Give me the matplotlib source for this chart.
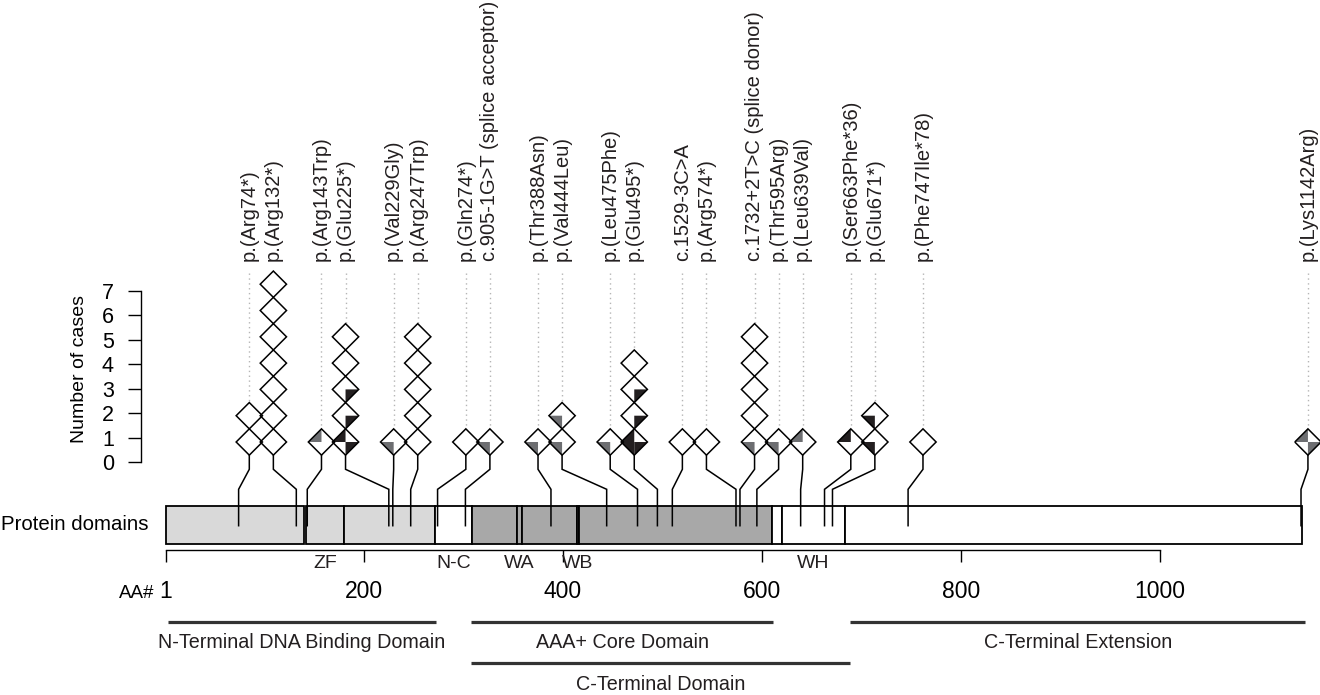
"""Lollipop plot of variants along the protein with domain bar underneath."""

import matplotlib

matplotlib.use("Agg")

import matplotlib.pyplot as plt
import numpy as np
from matplotlib.patches import Polygon, Rectangle

plt.rcParams["font.family"] = ["Liberation Sans", "DejaVu Sans"]

# ---- data ----
variant_labels = [
    "p.(Arg74*)", "p.(Arg132*)", "p.(Arg143Trp)", "p.(Glu225*)", "p.(Val229Gly)",
    "p.(Arg247Trp)", "p.(Gln274*)", "c.905-1G>T (splice acceptor)", "p.(Thr388Asn)",
    "p.(Val444Leu)", "p.(Leu475Phe)", "p.(Glu495*)", "c.1529-3C>A", "p.(Arg574*)",
    "c.1732+2T>C (splice donor)", "p.(Thr595Arg)", "p.(Leu639Val)", "p.(Ser663Phe*36)",
    "p.(Glu671*)", "p.(Phe747Ile*78)", "p.(Lys1142Arg)",
]
variant_aa = [74, 132, 143, 225, 229, 247, 274, 302, 388, 444, 475, 495, 510, 574,
              578, 595, 639, 663, 671, 747, 1142]
# one code per case, quadrants in order TL TR BL BR: "." empty, "g" grey, "k" dark
variant_cases = [
    ["....", "...."],
    ["...."] * 7,
    ["g..."],
    ["k..k", "...k", "...k", "....", "...."],
    ["..g."],
    ["...."] * 5,
    ["...."],
    ["..g."],
    ["..g."],
    ["..g.", "..g."],
    ["..g."],
    ["k.kk", "...k", "...k", "...."],
    ["...."],
    ["...."],
    ["..g.", "....", "....", "....", "...."],
    ["..g."],
    ["g..."],
    ["k..."],
    ["..k.", "..k."],
    ["...."],
    ["g..g"],
]

segment_starts = [1, 141.7, 180, 271, 309, 353.5, 358.5, 413.8, 416.4, 610.5, 620, 684]
segment_ends = [140, 180, 271, 309, 353.5, 358.5, 413.8, 416.4, 610.5, 620, 684, 1143]
segment_shades = ["light", "light", "light", "white", "dark", "dark", "dark", "dark",
                  "dark", "white", "white", "white"]
segment_tags = ["", "ZF", "", "N-C", "", "WA", "", "WB", "", "", "WH", ""]

region_names = ["N-Terminal DNA Binding Domain", "AAA+ Core Domain",
                "C-Terminal Domain", "C-Terminal Extension"]
region_starts = [3, 308, 308, 689]
region_ends = [272, 611, 689, 1146]
region_rows = [0, 0, 1, 0]

aa_ticks = [1, 200, 400, 600, 800, 1000]
case_ticks = [0, 1, 2, 3, 4, 5, 6, 7]

# ---- layout (pixel based, figure is 1320 x 695) ----
PX_PER_AA = 0.99475
AA1_PX = 166.0
PX_PER_CASE = 24.47
CASE0_PX = 462.0
LABEL_GAP_PX = 34.2      # spacing used while pushing labels apart
LABEL_SLOT_PX = 24.06    # labels then sit on a regular slot grid
LABEL_SLOT0_PX = 249.3

SHADES = {"light": "#d9d9d9", "dark": "#a8a8a8", "white": "white"}
QUAD_COLORS = {"g": "#6d6e71", "k": "#231f20"}
LW = 1.1


def x_at(px):
    return 1 + (px - AA1_PX) / PX_PER_AA


def y_at(px):
    return (CASE0_PX - px) / PX_PER_CASE


def spread_labels(positions, gap, slot, slot0):
    """Push label anchors apart (centred clusters), then snap them to free slots."""
    order = np.argsort(positions)
    groups = [[positions[i]] for i in order]

    def place(group):
        mid = np.mean(group)
        n = len(group)
        return [mid + (j - (n - 1) / 2) * gap for j in range(n)]

    merged = True
    while merged:
        merged = False
        for j in range(len(groups) - 1):
            if place(groups[j + 1])[0] - place(groups[j])[-1] < gap - 1e-9:
                groups[j] = groups[j] + groups[j + 1]
                del groups[j + 1]
                merged = True
                break
    flat = np.array([p for g in groups for p in place(g)])
    slots = np.round((flat - slot0) / slot)
    for j in range(1, len(slots)):
        if slots[j] <= slots[j - 1]:
            slots[j] = slots[j - 1] + 1
    out = np.empty(len(positions))
    out[order] = slot0 + slots * slot
    return out


fig = plt.figure(figsize=(13.2, 6.95), dpi=100)
ax = fig.add_axes([0, 0, 1, 1])
ax.set_xlim(x_at(0), x_at(1320))
ax.set_ylim(y_at(695), y_at(0))

# axes: cases on the left, amino acid scale below the bar
for side in ("top", "right"):
    ax.spines[side].set_visible(False)
ax.spines["left"].set_position(("data", x_at(141)))
ax.spines["left"].set_bounds(0, 7)
ax.spines["bottom"].set_position(("data", y_at(550)))
ax.spines["bottom"].set_bounds(1, 1000)
for side in ("left", "bottom"):
    ax.spines[side].set_linewidth(1.0)
ax.set_yticks(case_ticks)
ax.set_xticks(aa_ticks)
ax.tick_params(axis="y", direction="out", length=9.6, width=1.0, pad=10, labelsize=15.5)
ax.tick_params(axis="x", direction="out", length=8.6, width=1.0, pad=13, labelsize=16.5)
ax.set_facecolor("white")

ax.text(x_at(80), y_at(369), "Number of cases", rotation=90, ha="center", va="center",
        fontsize=14)

# domain bar
bar_bottom, bar_top = y_at(544.3), y_at(505.7)
for start, end, shade, tag in zip(segment_starts, segment_ends, segment_shades, segment_tags):
    ax.add_patch(Rectangle((start, bar_bottom), end - start, bar_top - bar_bottom,
                           facecolor=SHADES[shade], edgecolor="black", linewidth=1.3,
                           zorder=1))
    if tag:
        ax.text((start + end) / 2, y_at(564), tag, ha="center", va="center",
                fontsize=14, color="#231f20")

ax.text(x_at(1), (bar_top + bar_bottom) / 2, "Protein domains", ha="left", va="center",
        fontsize=14.7)
ax.text(x_at(154), y_at(593), "AA#", ha="right", va="center", fontsize=13.5)

# functional regions below the scale
for name, start, end, row in zip(region_names, region_starts, region_ends, region_rows):
    line_y = y_at(622 + 41 * row)
    ax.plot([start, end], [line_y, line_y], color="#333333", linewidth=2.3,
            solid_capstyle="butt")
    ax.text((start + end) / 2, y_at(642 + 42 * row), name, ha="center", va="center",
            fontsize=14.2, color="#231f20")

# lollipops
column_x = spread_labels(variant_aa, LABEL_GAP_PX / PX_PER_AA,
                         LABEL_SLOT_PX / PX_PER_AA, x_at(LABEL_SLOT0_PX))
half_w = 13.15 / PX_PER_AA
step = 26.3 / PX_PER_CASE
half_h = step / 2
first_center = y_at(442)

for label, aa, cases, cx in zip(variant_labels, variant_aa, variant_cases, column_x):
    stem_y = [first_center - half_h, y_at(469.3), y_at(489.3), y_at(525.7)]
    ax.plot([cx, cx, aa, aa], stem_y, color="black", linewidth=LW, zorder=2,
            solid_joinstyle="miter")

    top = first_center + (len(cases) - 1) * step + half_h
    ax.plot([cx, cx], [y_at(273), top], color="#b5b5b5", linewidth=1.0,
            linestyle=(0, (1, 2.5)), zorder=1)
    ax.text(cx, y_at(261), label, rotation=90, ha="center", va="bottom", fontsize=14.5,
            color="#231f20")

    for k, code in enumerate(cases):
        cy = first_center + k * step
        left, right = (cx - half_w, cy), (cx + half_w, cy)
        up, down, mid = (cx, cy + half_h), (cx, cy - half_h), (cx, cy)
        ax.add_patch(Polygon([left, up, right, down], closed=True, facecolor="white",
                             edgecolor="none", zorder=3))
        quads = [(left, up), (up, right), (left, down), (right, down)]
        for q, (p1, p2) in zip(code, quads):
            if q in QUAD_COLORS:
                ax.add_patch(Polygon([p1, p2, mid], closed=True, facecolor=QUAD_COLORS[q],
                                     edgecolor="none", zorder=3.5))

for cases, cx in zip(variant_cases, column_x):
    for k in range(len(cases)):
        cy = first_center + k * step
        ax.add_patch(Polygon([(cx - half_w, cy), (cx, cy + half_h), (cx + half_w, cy),
                              (cx, cy - half_h)], closed=True, facecolor="none",
                             edgecolor="black", linewidth=LW, zorder=4))

fig.savefig("out.png", dpi=100, facecolor="white")
plt.close(fig)
